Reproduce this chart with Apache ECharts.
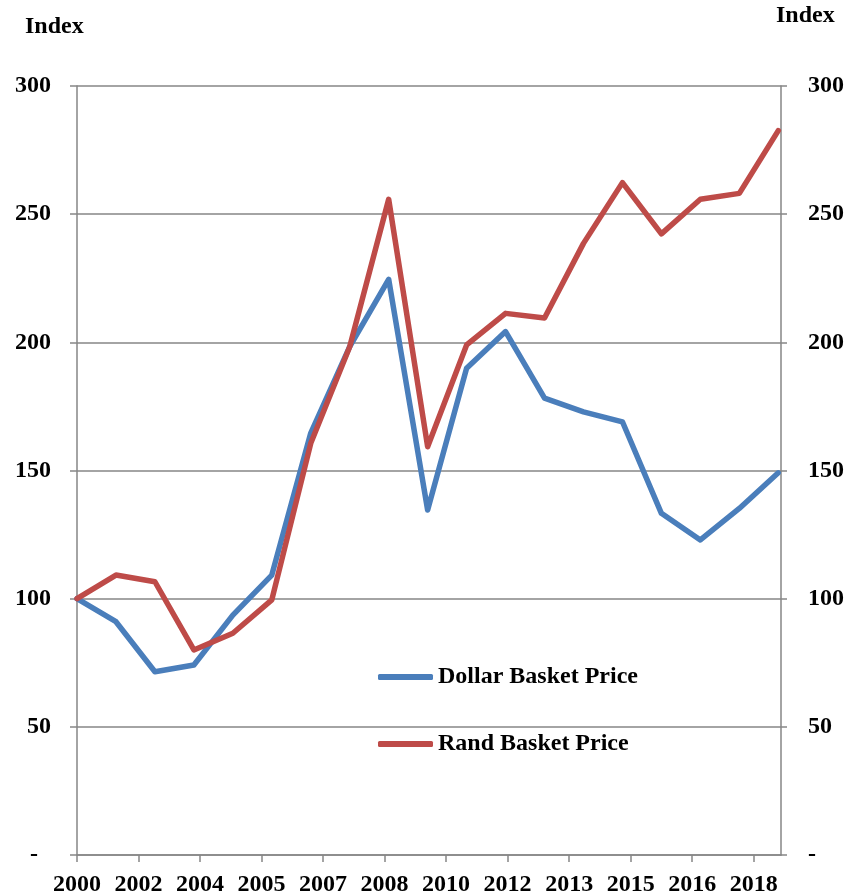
<!DOCTYPE html>
<html>
<head>
<meta charset="utf-8">
<script src="https://cdn.jsdelivr.net/npm/echarts@6/dist/echarts.min.js"></script>
<style>html,body{margin:0;padding:0;background:#fff}#c{width:862px;height:894px}</style>
</head>
<body>
<div id="c"></div>
<script>
// Data (one point per year, 2000..2018)
var years = [2000,2001,2002,2003,2004,2005,2006,2007,2008,2009,2010,2011,2012,2013,2014,2015,2016,2017,2018];
var dollarBasket = [100, 91.0, 71.5, 74.1, 93.6, 109.2, 164.6, 198.3, 224.6, 134.6, 189.9, 204.2, 178.2, 172.9, 169.0, 133.3, 122.9, 135.2, 149.1];
var randBasket   = [100, 109.2, 106.6, 80.0, 86.5, 99.5, 160.6, 198.3, 255.8, 159.3, 199.0, 211.3, 209.5, 238.6, 262.3, 242.3, 255.8, 258.1, 282.6];
var xTickLabels = ['2000','2002','2004','2005','2007','2008','2010','2012','2013','2015','2016','2018'];

var TICK_STEP = 1.579;      // spacing of x ticks, in data-point units
var X_MAX = 18.07;
var tickVals = xTickLabels.map(function(_, k){ return +(k * TICK_STEP).toFixed(4); });

function pairs(arr){ return arr.map(function(v, i){ return [i, v]; }); }

var FONT = "'Liberation Serif','Times New Roman',serif";
var FS = 24;
var AX = '#868686';
var BLUE = '#4A7EBB', RED = '#BE4B48';

function yLabel(v){ return v === 0 ? '{d|-}' : String(v); }

var chart = echarts.init(document.getElementById('c'), null, {renderer:'canvas'});
chart.setOption({
  animation: false,
  backgroundColor: '#fff',
  grid: { left: 77, right: 81, top: 86, bottom: 39, containLabel: false, outerBoundsMode: 'none' },
  xAxis: {
    type: 'value', min: 0, max: X_MAX,
    axisLine: { show: true, lineStyle: { color: AX, width: 1.5 } },
    axisTick: { show: true, length: 7, lineStyle: { color: AX, width: 1.5 }, customValues: tickVals },
    axisLabel: {
      customValues: tickVals,
      margin: 18,
      color: '#000', fontFamily: FONT, fontWeight: 'bold', fontSize: FS,
      formatter: function(v){ var k = Math.round(v / TICK_STEP); return xTickLabels[k] || ''; }
    },
    splitLine: { show: false }
  },
  yAxis: [
    {
      type: 'value', min: 0, max: 300, interval: 50, position: 'left',
      axisLine: { show: true, lineStyle: { color: AX, width: 1.5 } },
      axisTick: { show: true, length: 7, lineStyle: { color: AX, width: 1.5 } },
      axisLabel: {
        margin: 26, color: '#000', fontFamily: FONT, fontWeight: 'bold', fontSize: FS,
        formatter: yLabel,
        rich: { d: { padding: [0, 13, 0, 0], fontFamily: FONT, fontWeight: 'bold', fontSize: FS, color: '#000' } }
      },
      splitLine: { show: true, lineStyle: { color: AX, width: 1.5 } }
    },
    {
      type: 'value', min: 0, max: 300, interval: 50, position: 'right',
      axisLine: { show: true, lineStyle: { color: AX, width: 1.5 } },
      axisTick: { show: true, length: 6, lineStyle: { color: AX, width: 1.5 } },
      axisLabel: {
        margin: 27, color: '#000', fontFamily: FONT, fontWeight: 'bold', fontSize: FS,
        formatter: function(v){ return v === 0 ? '-' : String(v); }
      },
      splitLine: { show: false }
    }
  ],
  legend: {
    show: true,
    orient: 'vertical', left: 378, top: 665, padding: 0,
    icon: 'roundRect',
    itemWidth: 55, itemHeight: 6, itemGap: 43,
    textStyle: { color: '#000', fontFamily: FONT, fontWeight: 'bold', fontSize: FS },
    data: [{ name: 'Dollar Basket Price' }, { name: 'Rand Basket Price' }]
  },
  graphic: [
    { type: 'text', left: 25, top: 15, style: { text: 'Index', fill: '#000', font: 'bold ' + FS + 'px ' + FONT } },
    { type: 'text', left: 776, top: 4, style: { text: 'Index', fill: '#000', font: 'bold ' + FS + 'px ' + FONT } }
  ],
  series: [
    {
      name: 'Dollar Basket Price', type: 'line', yAxisIndex: 0,
      data: pairs(dollarBasket), symbol: 'none', smooth: false,
      lineStyle: { color: BLUE, width: 5.5, cap: 'round', join: 'round' },
      itemStyle: { color: BLUE }, z: 3
    },
    {
      name: 'Rand Basket Price', type: 'line', yAxisIndex: 0,
      data: pairs(randBasket), symbol: 'none', smooth: false,
      lineStyle: { color: RED, width: 5.5, cap: 'round', join: 'round' },
      itemStyle: { color: RED }, z: 4
    }
  ]
});
</script>
</body>
</html>
